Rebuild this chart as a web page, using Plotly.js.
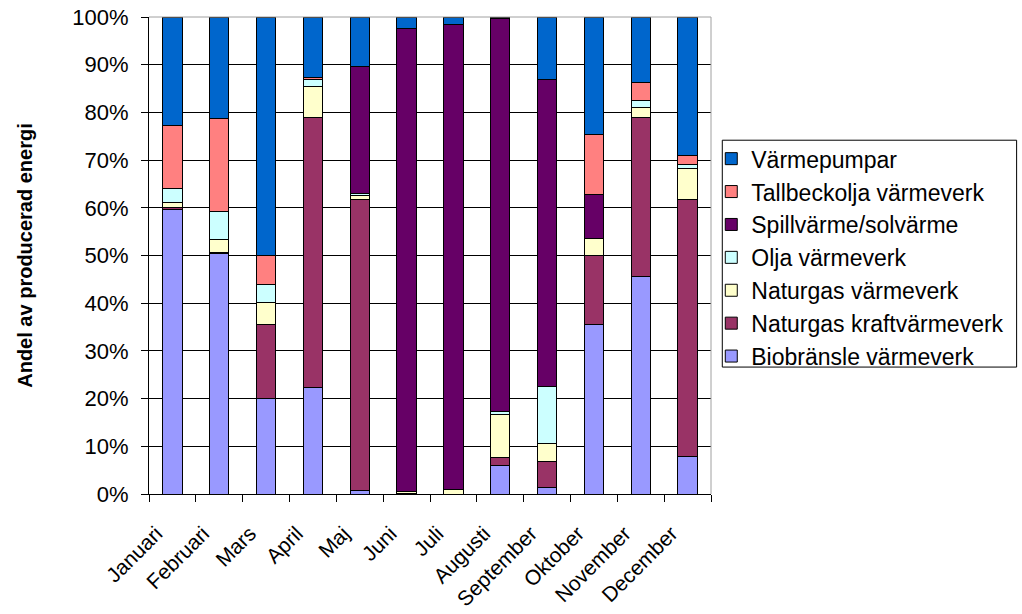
<!DOCTYPE html>
<html>
<head>
<meta charset="utf-8">
<script src="https://cdn.plot.ly/plotly-3.0.1.min.js"></script>
<style>html,body{margin:0;padding:0;background:#fff;}#chart{width:1022px;height:614px;}</style>
</head>
<body>
<div id="chart"></div>
<script>
const months = ["Januari","Februari","Mars","April","Maj","Juni","Juli","Augusti","September","Oktober","November","December"];
const seriesNames = ["Biobränsle värmeverk","Naturgas kraftvärmeverk","Naturgas värmeverk","Olja värmeverk","Spillvärme/solvärme","Tallbeckolja värmeverk","Värmepumpar"];
const biobransle   = [59.7, 50.4, 20.0, 22.3,  0.8,  0.1,  0.0,  6.0,  1.3, 35.6, 45.6,  7.8];
const ngKraft      = [ 0.3,  0.2, 15.6, 56.7, 60.9,  0.0,  0.0,  1.6,  5.6, 14.3, 33.3, 54.0];
const ngVarme      = [ 1.2,  2.8,  4.6,  6.5,  0.8,  0.4,  1.0,  9.0,  3.7,  3.7,  2.1,  6.4];
const olja         = [ 2.9,  5.9,  3.7,  1.3,  0.5,  0.0,  0.0,  0.6, 12.0,  0.0,  1.4,  0.8];
const spillvarme   = [ 0.0,  0.0,  0.0,  0.0, 26.7, 97.1, 97.5, 82.5, 64.2,  9.1,  0.0,  0.0];
const tallbeckolja = [13.2, 19.4,  6.2,  0.5,  0.0,  0.0,  0.0,  0.0,  0.0, 12.6,  3.9,  1.9];
const varmepumpar  = [22.7, 21.3, 49.9, 12.7, 10.3,  2.4,  1.5,  0.3, 13.2, 24.7, 13.7, 29.1];
const yTicks = [0,10,20,30,40,50,60,70,80,90,100];

const values = [biobransle, ngKraft, ngVarme, olja, spillvarme, tallbeckolja, varmepumpar];
const colors = ["#9999FF","#993366","#FFFFCC","#CCFFFF","#660066","#FF8080","#0066CC"];

const font = "Liberation Sans, Arial, sans-serif";
const traces = values.map((v,i)=>({
  type:"bar", name:seriesNames[i], x:months, y:v,
  marker:{color:colors[i], line:{color:"#000", width:1}},
  legendgroup:"g"+i, legendrank: 100 - i,
  hoverinfo:"x+y+name"
}));

const layout = {
  width:1022, height:614,
  margin:{l:149, r:311, t:17, b:120},
  paper_bgcolor:"#fff", plot_bgcolor:"#fff",
  barmode:"stack", bargap:0.59,
  font:{family:font, size:21, color:"#000"},
  showlegend:true,
  legend:{
    x:1.0005, xref:"paper", xanchor:"left",
    y:0.748, yanchor:"top",
    traceorder:"grouped", tracegroupgap:0,
    borderwidth:0, bgcolor:"rgba(0,0,0,0)",
    font:{family:font, size:23, color:"#000"}
  },
  xaxis:{
    type:"category", tickangle:-45,
    ticks:"outside", ticklen:7, tickcolor:"#000", tickson:"boundaries",
    showline:true, linecolor:"#000", linewidth:1,
    showgrid:false, zeroline:false,
    tickfont:{family:font, size:21, color:"#000"},
    ticklabelstandoff:18, ticklabelshift:-16
  },
  yaxis:{
    range:[0,100], tickvals:yTicks, ticktext:yTicks.map(t=>t+"%"),
    ticks:"outside", ticklen:7, tickcolor:"#000",
    showline:true, linecolor:"#000", linewidth:1,
    showgrid:true, gridcolor:"#000", gridwidth:1, zeroline:false,
    tickfont:{family:font, size:22, color:"#000"},
    ticklabelstandoff:8,
    title:{text:"<b>Andel av producerad energi</b>", font:{family:font, size:20, color:"#000"}, standoff:34}
  },
  shapes:[
    {type:"line", xref:"paper", yref:"paper", x0:0, x1:1, y0:1, y1:1, line:{color:"#a0a0a0", width:1}, layer:"above"},
    {type:"line", xref:"paper", yref:"paper", x0:1, x1:1, y0:0, y1:1, line:{color:"#a0a0a0", width:1}, layer:"above"},
    {type:"rect", xref:"paper", yref:"paper", x0:1.0201, x1:1.5438, y0:0.2661, y1:0.7417, line:{color:"#000", width:1}, fillcolor:"rgba(0,0,0,0)", layer:"above"}
  ]
};

Plotly.newPlot("chart", traces, layout, {displayModeBar:false, staticPlot:true});
</script>
</body>
</html>
